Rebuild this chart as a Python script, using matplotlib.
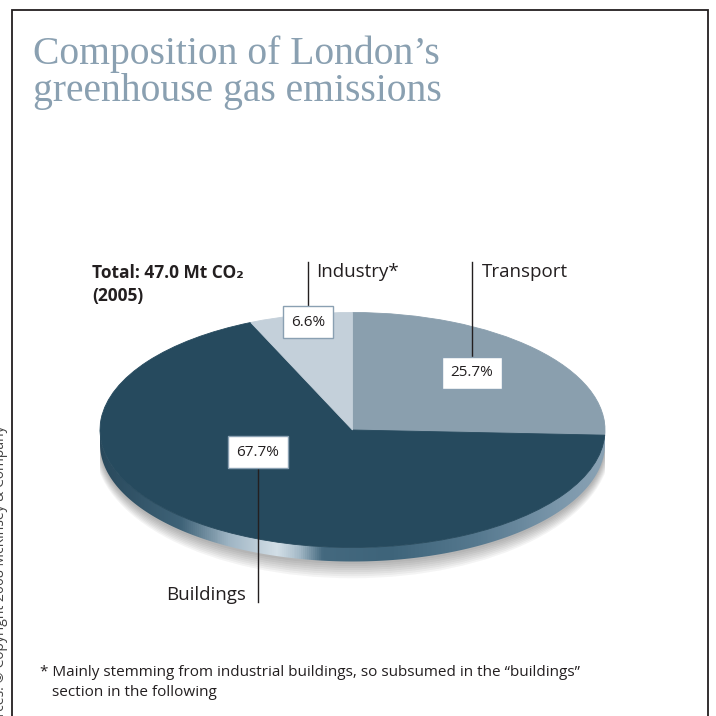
import numpy as np
import matplotlib.pyplot as plt
from matplotlib.patches import Polygon, Ellipse
from matplotlib.colors import LinearSegmentedColormap

# London GHG emissions by sector, 2005 (share of total, %)
sectors = ["Transport", "Buildings", "Industry*"]
shares = [25.7, 67.7, 6.6]
total_mt = 47.0
year = 2005

slice_colors = ["#8a9fae", "#264a5e", "#c4d0da"]
title_color = "#8aa0b1"
ink = "#231f20"
sans = ["Open Sans", "DejaVu Sans"]

W = H = 716
fig = plt.figure(figsize=(W / 100, H / 100), dpi=100)
fig.patch.set_facecolor("white")

# page layer in pixel units (y pointing down)
bg = fig.add_axes([0, 0, 1, 1])
bg.set_xlim(0, W)
bg.set_ylim(H, 0)
bg.axis("off")
bg.patch.set_visible(False)
bg.set_zorder(3)

# frame (open at the bottom)
bg.plot([12, 12, 708, 708], [H + 5, 10, 10, H + 5], color=ink, lw=1.3,
        solid_joinstyle="miter")

bg.text(33, 64, "Composition of London\u2019s", family="Liberation Serif",
        fontsize=28.5, color=title_color, va="baseline")
bg.text(33, 101, "greenhouse gas emissions", family="Liberation Serif",
        fontsize=28.5, color=title_color, va="baseline")

bg.text(1, 425, "Sources: \u00a9 Copyright 2008 McKinsey & Company",
        rotation=90, ha="center", va="top", fontsize=10, color="#444444",
        family=sans)

bg.text(92, 273, "Total: %.1f Mt CO\u2082" % total_mt, family=sans,
        fontsize=12.5, fontweight="bold", color=ink, va="center")
bg.text(92, 296, "(%d)" % year, family=sans, fontsize=12.5,
        fontweight="bold", color=ink, va="center")

# 3D-looking pie: elliptical top face plus a shaded rim
cx, cy = 352.5, 430.0
a, b = 252.5, 117.5
rim = 14 / b
top_pad, bot_pad = 10, 50
pax = fig.add_axes([(cx - a) / W, 1 - (cy + b + bot_pad) / H,
                    2 * a / W, (2 * b + top_pad + bot_pad) / H])
pax.set_zorder(1)
pax.patch.set_visible(False)

wedges, _ = pax.pie(shares, colors=slice_colors, startangle=90,
                    counterclock=False, radius=1)
for w in wedges:
    w.set_edgecolor(w.get_facecolor())
    w.set_linewidth(0.6)
    w.set_zorder(4)

# soft shadow under the disc
for k in range(8):
    pax.add_patch(Ellipse((0, -rim - 0.02), 2.0 + 0.006 * k,
                          2.0 + 0.035 * k, fc="#303030", ec="none",
                          alpha=0.05, zorder=1))

# rim band along the front half
th = np.linspace(np.pi, 2 * np.pi, 300)
upper = np.column_stack([np.cos(th), np.sin(th)])
lower = np.column_stack([np.cos(th[::-1]), np.sin(th[::-1]) - rim])
band = Polygon(np.vstack([upper, lower]), closed=True, fc="none", ec="none")
pax.add_patch(band)

rim_stops = [(0.0, "#29495c"), (0.16, "#3f6378"), (0.255, "#9fb5c4"),
             (0.35, "#d3dfe7"), (0.395, "#a4b9c7"), (0.44, "#44697f"),
             (0.575, "#3e647a"), (0.75, "#56798f"), (0.91, "#7b97ab"),
             (1.0, "#8aa2b4")]
rim_cmap = LinearSegmentedColormap.from_list("rim", rim_stops)
img = pax.imshow(np.linspace(0, 1, 500)[None, :], cmap=rim_cmap,
                 extent=(-1, 1, -1 - rim - 0.02, 0), aspect="auto",
                 zorder=2, interpolation="bilinear")
img.set_clip_path(band)

pax.set_aspect("auto")
pax.set_xlim(-1, 1)
pax.set_ylim(-1 - bot_pad / b, 1 + top_pad / b)
pax.axis("off")

# sector names, leader lines and value boxes
box = dict(boxstyle="square,pad=0.55", fc="white", ec="#8aa0b2", lw=1.0)
lab = dict(family=sans, fontsize=13.5, color=ink, va="center")
pct = dict(family=sans, fontsize=11, color=ink, ha="center",
           va="center", bbox=box)

bg.plot([472, 472], [262, 360], color=ink, lw=1.0)
bg.text(482, 272, sectors[0], ha="left", **lab)
bg.text(472, 373, "%.1f%%" % shares[0], **pct)

bg.plot([308, 308], [262, 309], color=ink, lw=1.0)
bg.text(316, 272, sectors[2], ha="left", **lab)
bg.text(308, 322, "%.1f%%" % shares[2], **pct)

bg.plot([258, 258], [466, 602], color=ink, lw=1.0)
bg.text(246, 595, sectors[1], ha="right", **lab)
bg.text(258, 452, "%.1f%%" % shares[1], **pct)

bg.text(40, 673, "* Mainly stemming from industrial buildings, so subsumed "
        "in the \u201cbuildings\u201d", family=sans, fontsize=11,
        color=ink, va="center")
bg.text(40, 692, "   section in the following", family=sans, fontsize=11,
        color=ink, va="center")

fig.savefig("out.png", dpi=100, facecolor="white")
